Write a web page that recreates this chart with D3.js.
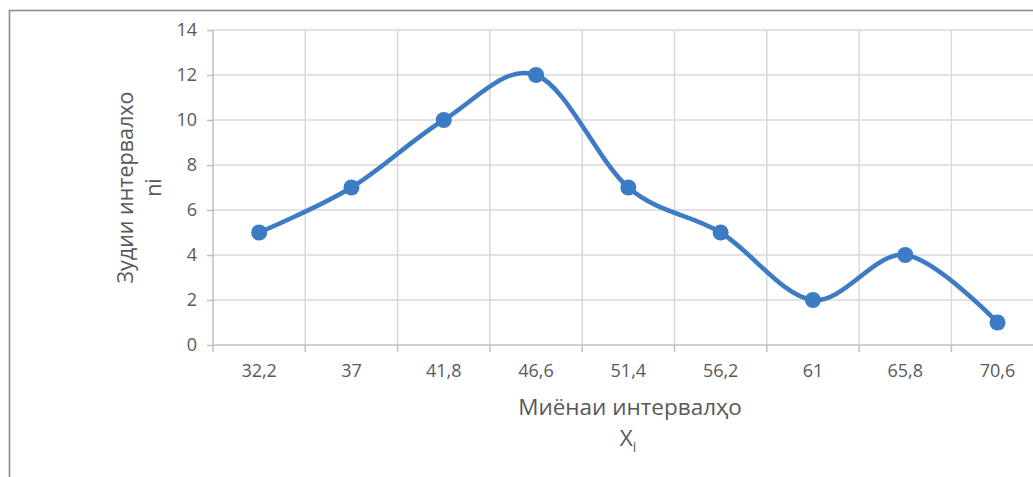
<!DOCTYPE html>
<html>
<head>
<meta charset="utf-8">
<script src="https://cdn.jsdelivr.net/npm/d3@7"></script>
<style>
  html, body { margin: 0; padding: 0; background: #fff; }
  svg { display: block; }
  text { font-family: "Open Sans", "Noto Sans", sans-serif; fill: #595959; }
</style>
</head>
<body>
<svg id="chart" width="1033" height="477"></svg>
<script>
// Interval midpoints (category labels) and their frequencies
const categories = ["32,2", "37", "41,8", "46,6", "51,4", "56,2", "61", "65,8", "70,6"];
const frequencies = [5, 7, 10, 12, 7, 5, 2, 4, 1];
const yTicks = [0, 2, 4, 6, 8, 10, 12, 14];
const xTitle = "Миёнаи интервалҳо";
const yTitle = "Зудии интервалхо";
const yTitleSub = "ni";

const svg = d3.select("#chart");

const plot = { left: 213, top: 30, bottom: 345, step: 92.3 };

const x = d3.scaleBand()
  .domain(categories)
  .range([plot.left, plot.left + plot.step * categories.length])
  .padding(0);

const y = d3.scaleLinear()
  .domain([0, 14])
  .range([plot.bottom, plot.top]);

// Chart frame
svg.append("rect")
  .attr("x", 9.5).attr("y", 10.5)
  .attr("width", 1060).attr("height", 500)
  .attr("fill", "#fff")
  .attr("stroke", "#8c8c8c")
  .attr("stroke-width", 1.6);

// Horizontal gridlines
svg.append("g")
  .selectAll("line")
  .data(yTicks.filter(d => d > 0))
  .join("line")
  .attr("x1", plot.left).attr("x2", x.range()[1])
  .attr("y1", d => y(d)).attr("y2", d => y(d))
  .attr("stroke", "#d9d9d9")
  .attr("stroke-width", 1.5);

// Vertical gridlines at category boundaries
const boundaries = categories.map(c => x(c)).concat([x.range()[1]]);
svg.append("g")
  .selectAll("line")
  .data(boundaries.slice(1))
  .join("line")
  .attr("x1", d => d).attr("x2", d => d)
  .attr("y1", plot.top).attr("y2", plot.bottom)
  .attr("stroke", "#d9d9d9")
  .attr("stroke-width", 1.5);

// Y axis
const yAxis = svg.append("g")
  .attr("transform", `translate(${plot.left},0)`)
  .call(d3.axisLeft(y).tickValues(yTicks).tickSize(6).tickPadding(10).tickFormat(d3.format("d")));
yAxis.select(".domain").attr("stroke", "#bfbfbf").attr("stroke-width", 1.5)
  .attr("d", `M0,${plot.top}V${plot.bottom}`);
yAxis.selectAll(".tick line").attr("stroke", "#bfbfbf").attr("stroke-width", 1.5);
yAxis.selectAll(".tick text")
  .attr("font-size", 18)
  .style("font-family", '"Open Sans", sans-serif')
  .attr("fill", "#595959");

// X axis baseline and boundary ticks
svg.append("line")
  .attr("x1", plot.left).attr("x2", x.range()[1])
  .attr("y1", plot.bottom).attr("y2", plot.bottom)
  .attr("stroke", "#bfbfbf").attr("stroke-width", 1.5);
svg.append("g")
  .selectAll("line")
  .data(boundaries)
  .join("line")
  .attr("x1", d => d).attr("x2", d => d)
  .attr("y1", plot.bottom).attr("y2", plot.bottom + 7)
  .attr("stroke", "#bfbfbf").attr("stroke-width", 1.5);

// X category labels
svg.append("g")
  .selectAll("text")
  .data(categories)
  .join("text")
  .attr("x", d => x(d) + x.bandwidth() / 2)
  .attr("y", 377)
  .attr("text-anchor", "middle")
  .attr("font-size", 18)
  .text(d => d);

// Smoothed frequency polygon
const line = d3.line()
  .x((d, i) => x(categories[i]) + x.bandwidth() / 2)
  .y(d => y(d))
  .curve(d3.curveCardinal.tension(0));

svg.append("path")
  .datum(frequencies)
  .attr("d", line)
  .attr("fill", "none")
  .attr("stroke", "#3d7cc4")
  .attr("stroke-width", 4.6)
  .attr("stroke-linecap", "round");

svg.append("g")
  .selectAll("circle")
  .data(frequencies)
  .join("circle")
  .attr("cx", (d, i) => x(categories[i]) + x.bandwidth() / 2)
  .attr("cy", d => y(d))
  .attr("r", 8)
  .attr("fill", "#3d7cc4");

// Axis titles
svg.append("text")
  .attr("x", 630).attr("y", 415)
  .attr("text-anchor", "middle")
  .attr("font-size", 22.5)
  .text(xTitle);

const xi = svg.append("text")
  .attr("x", 628).attr("y", 446)
  .attr("text-anchor", "middle")
  .attr("font-size", 22.5);
xi.append("tspan").text("X");
xi.append("tspan").attr("font-size", 14).attr("dy", 6).text("i");

svg.append("text")
  .attr("transform", `translate(133,${(plot.top + plot.bottom) / 2}) rotate(-90)`)
  .attr("text-anchor", "middle")
  .attr("font-size", 21.5)
  .text(yTitle);

svg.append("text")
  .attr("transform", `translate(161,${(plot.top + plot.bottom) / 2}) rotate(-90)`)
  .attr("text-anchor", "middle")
  .attr("font-size", 21.5)
  .text(yTitleSub);
</script>
</body>
</html>
